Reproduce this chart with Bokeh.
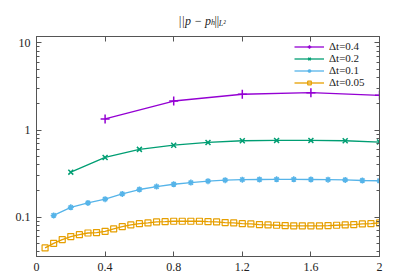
from bokeh.plotting import figure
from bokeh.layouts import column
from bokeh.models import Range1d, FixedTicker, LinearAxis, LogAxis, Legend, LegendItem
from bokeh.core.properties import value
from bokeh.embed import file_html
from bokeh.resources import INLINE

# ---- data ----
x_04 = [0.4, 0.8, 1.2, 1.6, 2.0]
y_04 = [1.34, 2.15, 2.57, 2.68, 2.50]

x_02 = [0.2, 0.4, 0.6, 0.8, 1.0, 1.2, 1.4, 1.6, 1.8, 2.0]
y_02 = [0.329, 0.485, 0.60, 0.67, 0.72, 0.753, 0.76, 0.76, 0.753, 0.728]

x_01 = [0.1, 0.2, 0.3, 0.4, 0.5, 0.6, 0.7, 0.8, 0.9, 1.0,
        1.1, 1.2, 1.3, 1.4, 1.5, 1.6, 1.7, 1.8, 1.9, 2.0]
y_01 = [0.105, 0.130, 0.146, 0.161, 0.185, 0.208, 0.225, 0.239, 0.250, 0.259,
        0.266, 0.270, 0.271, 0.272, 0.272, 0.271, 0.270, 0.268, 0.264, 0.262]

x_005 = [0.05, 0.10, 0.15, 0.20, 0.25, 0.30, 0.35, 0.40, 0.45, 0.50,
         0.55, 0.60, 0.65, 0.70, 0.75, 0.80, 0.85, 0.90, 0.95, 1.00,
         1.05, 1.10, 1.15, 1.20, 1.25, 1.30, 1.35, 1.40, 1.45, 1.50,
         1.55, 1.60, 1.65, 1.70, 1.75, 1.80, 1.85, 1.90, 1.95, 2.00]
y_005 = [0.0445, 0.0502, 0.0555, 0.0600, 0.0632, 0.0660, 0.0667, 0.0690, 0.0735, 0.0780,
         0.0817, 0.0845, 0.0860, 0.0885, 0.0890, 0.0900, 0.0900, 0.0900, 0.0900, 0.0890,
         0.0885, 0.0869, 0.0860, 0.0845, 0.0838, 0.0824, 0.0817, 0.0810, 0.0803, 0.0797,
         0.0797, 0.0797, 0.0797, 0.0803, 0.0810, 0.0817, 0.0824, 0.0838, 0.0845, 0.0860]

labels = ["Δt=0.4", "Δt=0.2", "Δt=0.1", "Δt=0.05"]
colors = ["#9400d3", "#009e73", "#56b4e9", "#e69f00"]

x_ticks = [0, 0.4, 0.8, 1.2, 1.6, 2.0]
x_tick_labels = ["0", "0.4", "0.8", "1.2", "1.6", "2"]
y_ticks = [0.1, 1, 10]
y_tick_labels = ["0.1", "1", "10"]
y_minor = [0.04, 0.05, 0.06, 0.07, 0.08, 0.09,
           0.2, 0.3, 0.4, 0.5, 0.6, 0.7, 0.8, 0.9,
           2, 3, 4, 5, 6, 7, 8, 9]

# title pieces: ||p − p_h||_{L^2}
title_parts = ["||p − p", "h", "||", "L²"]

FONT = "Liberation Serif"
AX = "#555555"
TXT = "#222222"

# ---- title strip ----
TH = 36
t = figure(width=399, height=TH, x_range=Range1d(0, 399), y_range=Range1d(0, TH),
           output_backend="svg", toolbar_location=None,
           min_border=0)
t.axis.visible = False
t.grid.visible = False
t.outline_line_color = None
tb = TH - 20
t.text(x=[203], y=[tb], text=[title_parts[0]], text_align="right", text_baseline="alphabetic",
       text_font=value(FONT), text_font_style="italic", text_font_size="12px", text_color=TXT)
t.text(x=[203], y=[tb - 2], text=[title_parts[1]], text_align="left", text_baseline="alphabetic",
       text_font=value(FONT), text_font_style="italic", text_font_size="8px", text_color=TXT)
t.text(x=[207], y=[tb], text=[title_parts[2]], text_align="left", text_baseline="alphabetic",
       text_font=value(FONT), text_font_size="12px", text_color=TXT)
t.text(x=[212], y=[tb - 3], text=[title_parts[3]], text_align="left", text_baseline="alphabetic",
       text_font=value(FONT), text_font_style="italic", text_font_size="8px", text_color=TXT)

# ---- main plot ----
p = figure(frame_width=343, frame_height=220,
           x_range=Range1d(0, 2), y_range=Range1d(0.0355, 11.8),
           y_axis_type="log", output_backend="svg", toolbar_location=None,
           min_border_left=36, min_border_right=20, min_border_top=0, min_border_bottom=0)
p.xgrid.visible = False
p.ygrid.visible = False
p.outline_line_color = AX


def style_axis(ax, show_labels, overrides_map):
    ax.axis_line_color = AX
    ax.major_tick_line_color = AX
    ax.minor_tick_line_color = AX
    ax.major_tick_in = 5
    ax.major_tick_out = 0
    ax.minor_tick_in = 3
    ax.minor_tick_out = 0
    ax.major_label_text_font = FONT
    ax.major_label_text_font_size = "12px"
    ax.major_label_text_color = TXT
    ax.major_label_standoff = 6
    if show_labels:
        ax.major_label_overrides = overrides_map
    else:
        ax.major_label_overrides = {k: "" for k in overrides_map}
        ax.major_label_standoff = 0
        ax.major_label_text_font_size = "1px"


xmap = {tk: lb for tk, lb in zip(x_ticks, x_tick_labels)}
ymap = {tk: lb for tk, lb in zip(y_ticks, y_tick_labels)}

p.xaxis.ticker = FixedTicker(ticks=x_ticks)
p.yaxis.ticker = FixedTicker(ticks=y_ticks, minor_ticks=y_minor)
style_axis(p.xaxis[0], True, xmap)
style_axis(p.yaxis[0], True, ymap)

top = LinearAxis(ticker=FixedTicker(ticks=x_ticks))
style_axis(top, False, xmap)
p.add_layout(top, "above")
right = LogAxis(ticker=FixedTicker(ticks=y_ticks, minor_ticks=y_minor))
style_axis(right, False, ymap)
p.add_layout(right, "right")

items = []
series = [(x_04, y_04, "cross", 9), (x_02, y_02, "x", 7),
          (x_01, y_01, "asterisk", 6), (x_005, y_005, "square", 6)]
for (xs, ys, mk, sz), lab, c in zip(series, labels, colors):
    r1 = p.line(xs, ys, line_color=c, line_width=1.3)
    if mk == "square":
        r2 = p.scatter(xs, ys, marker=mk, size=sz, line_color=c, fill_color=None, line_width=1.2)
    else:
        r2 = p.scatter(xs, ys, marker=mk, size=sz, line_color=c, line_width=1.5)
    items.append(LegendItem(label=lab, renderers=[r1, r2]))

legend = Legend(items=items, location=(258, 168))
legend.label_text_font = FONT
legend.label_text_font_size = "11px"
legend.label_text_color = TXT
legend.label_standoff = 5
legend.label_height = 9
legend.glyph_height = 9
legend.glyph_width = 30
legend.spacing = 0
legend.padding = 0
legend.margin = 0
legend.background_fill_alpha = 0
legend.border_line_alpha = 0
p.add_layout(legend)

layout = column(t, p, spacing=0)
open("out.html", "w").write(file_html(layout, INLINE))
